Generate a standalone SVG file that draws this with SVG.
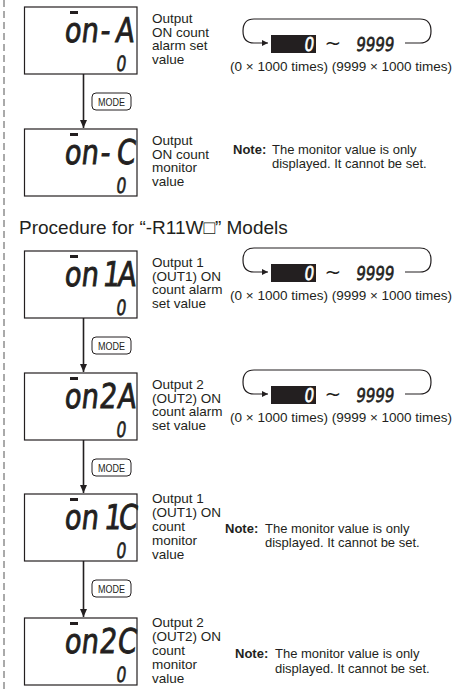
<svg xmlns="http://www.w3.org/2000/svg" width="460" height="691" viewBox="0 0 460 691">
<defs>
<marker id="ah" markerWidth="8" markerHeight="8" refX="8" refY="4" orient="auto" markerUnits="userSpaceOnUse"><path d="M0,0.5 L8,4 L0,7.5 z" fill="#231f20"/></marker>
<marker id="ahs" markerWidth="6" markerHeight="6" refX="6" refY="3" orient="auto" markerUnits="userSpaceOnUse"><path d="M0,0 L6,3 L0,6 z" fill="#231f20"/></marker>
<g id="loop">
<path class="thin" d="M405 43 H420 Q431 43 431 31 Q431 19 420 19 H254 Q243 19 243 31 Q243 43 254 43 H268" marker-end="url(#ahs)"/>
<rect x="271" y="35" width="45" height="18" fill="#231f20"/>
<text class="seg" transform="translate(308.5,51) skewX(-7) scale(0.8,1)" font-size="19" style="fill:#fff;stroke:#fff;stroke-width:0.6">0</text>
<text x="333" y="50" font-family="DejaVu Sans, sans-serif" font-size="20" fill="#231f20" text-anchor="middle">~</text>
<text class="seg" transform="translate(374.5,51) skewX(-7)" font-size="19" style="stroke:#231f20;stroke-width:0.6" textLength="38" lengthAdjust="spacingAndGlyphs">9999</text>
<text x="230" y="71" class="lbl" font-size="12.5">(0 × 1000 times) (9999 × 1000 times)</text>
</g>
</defs>
<style>
.lbl{font-family:"Liberation Sans",Arial,sans-serif;font-size:13.5px;fill:#231f20}
.nt{font-family:"Liberation Sans",Arial,sans-serif;font-size:13px;fill:#231f20}
.b{font-weight:bold}
.head{font-family:"Liberation Sans",Arial,"DejaVu Sans",sans-serif;font-size:19px;fill:#231f20}
.box{fill:#fff;stroke:#231f20;stroke-width:1.2}
.seg{font-family:"DejaVu Sans",sans-serif;font-weight:normal;fill:#231f20;text-anchor:middle}
.big{font-size:34px;stroke:#231f20;stroke-width:0.9}
.sm{font-size:21px;stroke:#231f20;stroke-width:0.6}
.bar{fill:#231f20}
.mode{fill:#fff;stroke:#231f20;stroke-width:1}
.modet{font-family:"Liberation Sans",Arial,sans-serif;font-size:11px;fill:#231f20;text-anchor:middle}
.conn{stroke:#231f20;stroke-width:1.6;fill:none}
.thin{stroke:#231f20;stroke-width:1.2;fill:none}
.dash{stroke:#555;stroke-width:1;stroke-dasharray:7 4}
</style>
<rect width="460" height="691" fill="#fff"/>
<line class="dash" x1="4" y1="0" x2="4" y2="691"/>

<g id="n1">
<rect class="box" x="24.5" y="7" width="112.5" height="67"/>
<rect class="bar" x="70" y="11" width="8" height="3"/>
<text class="seg big" transform="translate(0,42) skewX(-7) scale(0.8,1)"><tspan x="90">o</tspan><tspan x="111.25">n</tspan><tspan x="130.6">-</tspan><tspan x="155">A</tspan></text>
<text class="seg sm" transform="translate(120.5,71) skewX(-7) scale(0.75,1)">0</text>
<text class="lbl"><tspan x="152" y="23">Output</tspan><tspan x="152" y="36.5">ON count</tspan><tspan x="152" y="50">alarm set</tspan><tspan x="152" y="63.5">value</tspan></text>
</g>
<g id="r1"><use href="#loop"/></g>

<g id="n2">
<rect class="box" x="24.5" y="129" width="112.5" height="67"/>
<rect class="bar" x="70" y="133" width="8" height="3"/>
<text class="seg big" transform="translate(0,164) skewX(-7) scale(0.8,1)"><tspan x="90">o</tspan><tspan x="111.25">n</tspan><tspan x="130.6">-</tspan><tspan x="156.25">C</tspan></text>
<text class="seg sm" transform="translate(120.5,193) skewX(-7) scale(0.75,1)">0</text>
<text class="lbl"><tspan x="152" y="145">Output</tspan><tspan x="152" y="158.5">ON count</tspan><tspan x="152" y="172">monitor</tspan><tspan x="152" y="185.5">value</tspan></text>
</g>
<g id="note1">
<text class="nt b" x="233" y="154">Note:</text>
<text class="nt"><tspan x="272" y="154">The monitor value is only</tspan><tspan x="272" y="168">displayed. It cannot be set.</tspan></text>
</g>

<text class="head" x="19" y="234">Procedure for “-R11W□” Models</text>

<g id="n3">
<rect class="box" x="24.5" y="251" width="112.5" height="67"/>
<rect class="bar" x="70" y="255" width="8" height="3"/>
<text class="seg big" transform="translate(0,286) skewX(-7) scale(0.8,1)"><tspan x="90">o</tspan><tspan x="111.25">n</tspan><tspan x="138">1</tspan><tspan x="157.5">A</tspan></text>
<text class="seg sm" transform="translate(120.5,315) skewX(-7) scale(0.75,1)">0</text>
<text class="lbl"><tspan x="152" y="267">Output 1</tspan><tspan x="152" y="280.5">(OUT1) ON</tspan><tspan x="152" y="294">count alarm</tspan><tspan x="152" y="307.5">set value</tspan></text>
</g>
<g id="r3" transform="translate(0,229)"><use href="#loop"/></g>

<g id="n4">
<rect class="box" x="24.5" y="373" width="112.5" height="67"/>
<rect class="bar" x="70" y="377" width="8" height="3"/>
<text class="seg big" transform="translate(0,408) skewX(-7) scale(0.8,1)"><tspan x="90">o</tspan><tspan x="111.25">n</tspan><tspan x="134">2</tspan><tspan x="157.5">A</tspan></text>
<text class="seg sm" transform="translate(120.5,437) skewX(-7) scale(0.75,1)">0</text>
<text class="lbl"><tspan x="152" y="389">Output 2</tspan><tspan x="152" y="402.5">(OUT2) ON</tspan><tspan x="152" y="416">count alarm</tspan><tspan x="152" y="429.5">set value</tspan></text>
</g>
<g id="r4" transform="translate(0,351)"><use href="#loop"/></g>

<g id="n5">
<rect class="box" x="24.5" y="494" width="112.5" height="67"/>
<rect class="bar" x="70" y="498" width="8" height="3"/>
<text class="seg big" transform="translate(0,529) skewX(-7) scale(0.8,1)"><tspan x="90">o</tspan><tspan x="111.25">n</tspan><tspan x="140">1</tspan><tspan x="158.75">C</tspan></text>
<text class="seg sm" transform="translate(120.5,558) skewX(-7) scale(0.75,1)">0</text>
<text class="lbl"><tspan x="152" y="503">Output 1</tspan><tspan x="152" y="517">(OUT1) ON</tspan><tspan x="152" y="531">count</tspan><tspan x="152" y="545">monitor</tspan><tspan x="152" y="559">value</tspan></text>
</g>
<g id="note5">
<text class="nt b" x="225" y="533">Note:</text>
<text class="nt"><tspan x="265" y="533">The monitor value is only</tspan><tspan x="265" y="547">displayed. It cannot be set.</tspan></text>
</g>

<g id="n6">
<rect class="box" x="24.5" y="618" width="112.5" height="67"/>
<rect class="bar" x="70" y="622" width="8" height="3"/>
<text class="seg big" transform="translate(0,653) skewX(-7) scale(0.8,1)"><tspan x="90">o</tspan><tspan x="111.25">n</tspan><tspan x="134">2</tspan><tspan x="157.5">C</tspan></text>
<text class="seg sm" transform="translate(120.5,682) skewX(-7) scale(0.75,1)">0</text>
<text class="lbl"><tspan x="152" y="627">Output 2</tspan><tspan x="152" y="641">(OUT2) ON</tspan><tspan x="152" y="655">count</tspan><tspan x="152" y="669">monitor</tspan><tspan x="152" y="683">value</tspan></text>
</g>
<g id="note6">
<text class="nt b" x="235" y="658">Note:</text>
<text class="nt"><tspan x="275" y="658">The monitor value is only</tspan><tspan x="275" y="673">displayed. It cannot be set.</tspan></text>
</g>

<g id="connectors">
<line class="conn" x1="83.5" y1="74" x2="83.5" y2="128" marker-end="url(#ah)"/>
<line class="conn" x1="83.5" y1="318" x2="83.5" y2="372" marker-end="url(#ah)"/>
<line class="conn" x1="83.5" y1="440" x2="83.5" y2="493" marker-end="url(#ah)"/>
<line class="conn" x1="83.5" y1="561" x2="83.5" y2="617" marker-end="url(#ah)"/>
<rect class="mode" x="92" y="93" width="39" height="17" rx="4"/>
<text class="modet" x="111.5" y="105.5" textLength="27" lengthAdjust="spacingAndGlyphs">MODE</text>
<rect class="mode" x="92" y="337" width="39" height="17" rx="4"/>
<text class="modet" x="111.5" y="349.5" textLength="27" lengthAdjust="spacingAndGlyphs">MODE</text>
<rect class="mode" x="92" y="459" width="39" height="17" rx="4"/>
<text class="modet" x="111.5" y="471.5" textLength="27" lengthAdjust="spacingAndGlyphs">MODE</text>
<rect class="mode" x="92" y="580" width="39" height="17" rx="4"/>
<text class="modet" x="111.5" y="592.5" textLength="27" lengthAdjust="spacingAndGlyphs">MODE</text>
</g>
</svg>
